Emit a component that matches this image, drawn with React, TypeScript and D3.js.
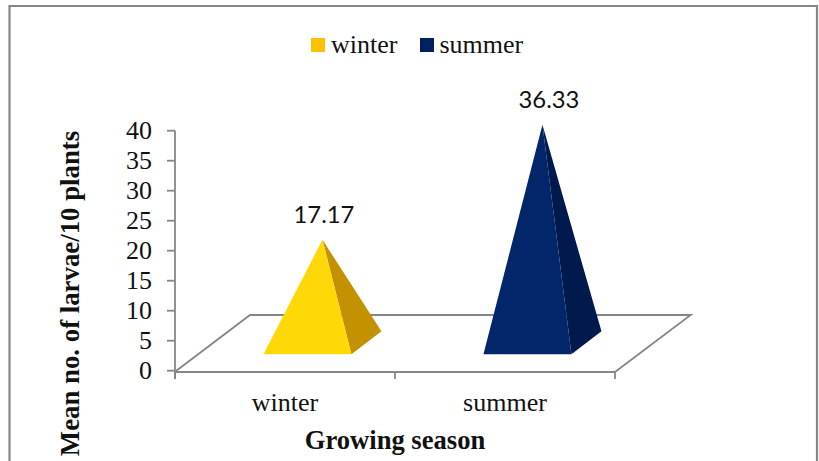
import React from "react";
import * as d3 from "d3";

const categories = ["winter", "summer"];
const means = [17.17, 36.33];
const valueLabels = ["17.17", "36.33"];
const labelNudges = [1.5, 6.5];
const yTicks = [0, 5, 10, 15, 20, 25, 30, 35, 40];
const faceColors = ["#FFD808", "#03266B"];
const sideColors = ["#C49200", "#001A4D"];
const legendColors = ["#FFC000", "#002060"];

const W = 819;
const H = 461;
const GRAY = "#868686";
const SERIF = "'Liberation Serif', serif";

// Oblique projection of the chart's depth axis onto the screen
const DEPTH_X = 75;
const DEPTH_Y = 57;
const HALF_WIDTH = 44;
const HALF_DEPTH = 0.2;
const BASE_CENTER = 0.49;

const x = d3.scaleBand<string>().domain(categories).range([175, 615]);
const y = d3.scaleLinear().domain([0, 40]).range([370.7, 130.7]);

type Pt = [number, number];
const project = (px: number, value: number, depth: number): Pt => [
  px + DEPTH_X * depth,
  y(value) - DEPTH_Y * depth,
];
const poly = d3.line<Pt>().x((d) => d[0]).y((d) => d[1]);
const closed = (pts: Pt[]) => poly(pts) + "Z";

function Label({ cx, cy, size, bold, anchor = "middle", family = SERIF, fill = "#111", children }: any) {
  return (
    <text
      x={cx}
      y={cy}
      fontFamily={family}
      fontSize={size}
      fontWeight={bold ? "bold" : "normal"}
      textAnchor={anchor}
      fill={fill}
    >
      {children}
    </text>
  );
}

export default function App() {
  const floorY = y(0) + 1.3;
  const left = x.range()[0];
  const right = x.range()[1];
  const floor = poly([
    [left + 1, floorY - 1],
    [left + DEPTH_X, floorY - DEPTH_Y],
    [right + DEPTH_X + 0.7, floorY - DEPTH_Y],
    [right, floorY],
  ]);
  const xTickPositions = [left, left + x.bandwidth(), right];

  return (
    <svg
      width={W}
      height={H}
      viewBox={`0 0 ${W} ${H}`}
      style={{ position: "absolute", left: 0, top: 0, background: "#fff" }}
    >
      {/* Chart area frame, open at the bottom */}
      <path d={`M9.5,${H} V6 H817 V${H}`} fill="none" stroke={GRAY} strokeWidth={2.2} />

      {/* Legend */}
      {categories.map((c, i) => {
        const sx = [311, 420][i];
        const tx = [331, 439.5][i];
        return (
          <g key={c}>
            <rect x={sx} y={38} width={14} height={14} fill={legendColors[i]} />
            <Label cx={tx} cy={53} size={26} anchor="start">{c}</Label>
          </g>
        );
      })}

      {/* Floor of the 3-D plot */}
      <path d={floor!} fill="none" stroke={GRAY} strokeWidth={1.8} />

      {/* Value axis */}
      <line x1={175} x2={175} y1={y(40)} y2={floorY + 7} stroke={GRAY} strokeWidth={1.8} />
      {yTicks.map((t) => (
        <g key={t}>
          <line x1={167} x2={175} y1={y(t)} y2={y(t)} stroke={GRAY} strokeWidth={1.8} />
          <Label cx={152} cy={y(t) + 8.5} size={26} anchor="end">{t}</Label>
        </g>
      ))}

      {/* Category axis */}
      <line x1={left} x2={right} y1={floorY} y2={floorY} stroke={GRAY} strokeWidth={1.8} />
      {xTickPositions.map((p) => (
        <line key={p} x1={p} x2={p} y1={floorY} y2={floorY + 7} stroke={GRAY} strokeWidth={1.8} />
      ))}
      {categories.map((c) => (
        <Label key={c} cx={x(c)! + x.bandwidth() / 2} cy={411} size={26}>{c}</Label>
      ))}

      {/* Pyramids: the apex stands over the middle of the base */}
      {categories.map((c, i) => {
        const mid = x(c)! + x.bandwidth() / 2 + 0.7;
        const frontL = project(mid - HALF_WIDTH, 0, BASE_CENTER - HALF_DEPTH);
        const frontR = project(mid + HALF_WIDTH, 0, BASE_CENTER - HALF_DEPTH);
        const backR = project(mid + HALF_WIDTH, 0, BASE_CENTER + HALF_DEPTH);
        const apex = project(mid, means[i], BASE_CENTER);
        return (
          <g key={c}>
            <path d={closed([apex, frontR, backR])} fill={sideColors[i]} />
            <path d={closed([apex, frontL, frontR])} fill={faceColors[i]} />
            <Label cx={apex[0] + labelNudges[i]} cy={apex[1] - 17} size={23.8} family="Lato, sans-serif">
              {valueLabels[i]}
            </Label>
          </g>
        );
      })}

      {/* Axis titles */}
      <Label cx={395} cy={449} size={26.6} bold>Growing season</Label>
      <text
        transform="translate(79,293.5) rotate(-90)"
        fontFamily={SERIF}
        fontSize={26.8}
        fontWeight="bold"
        textAnchor="middle"
        fill="#111"
      >
        Mean no. of larvae/10 plants
      </text>
    </svg>
  );
}
